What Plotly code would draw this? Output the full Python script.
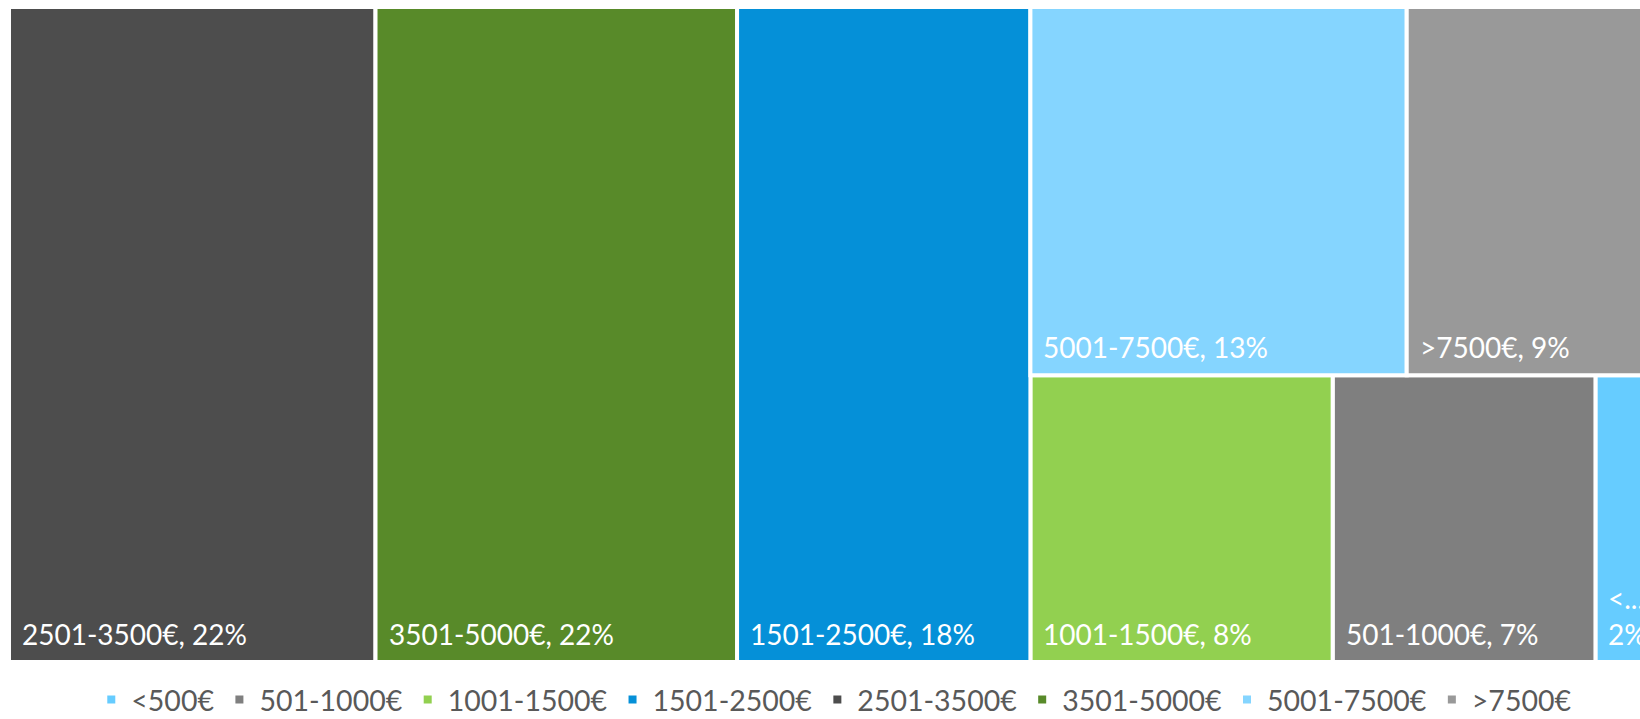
import plotly.graph_objects as go

# ---- data ----
categories = ["<500€", "501-1000€", "1001-1500€", "1501-2500€",
              "2501-3500€", "3501-5000€", "5001-7500€", ">7500€"]
shares = [1.99, 6.92, 7.96, 17.65, 22.05, 21.75, 12.73, 8.94]
colors = ["#66CCFF", "#7F7F7F", "#92D050", "#0590D8",
          "#4D4D4D", "#588A29", "#85D5FF", "#999999"]

# treemap structure (Excel-like): columns, each a stack of rows (top -> bottom)
tree_groups = [
    [["2501-3500€"]],
    [["3501-5000€"]],
    [["1501-2500€"]],
    [["5001-7500€", ">7500€"], ["1001-1500€", "501-1000€", "<500€"]],
]

val = dict(zip(categories, shares))
col = dict(zip(categories, colors))
total = sum(shares)

# ---- geometry (treemap of height 1, width = total) ----
tiles = {}
x = 0.0
for group in tree_groups:
    gsum = sum(val[c] for row in group for c in row)
    gw = gsum  # column width since height is 1
    ytop = 1.0
    for row in group:
        rsum = sum(val[c] for c in row)
        rh = rsum / gsum
        ybot = max(round(ytop - rh, 9), 0.0)
        xx = x
        for c in row:
            w = val[c] / rh
            tiles[c] = (xx, ybot, w, ytop - ybot)
            xx += w
        ytop = ybot
    x += gw

W_PX, H_PX = 1640, 719
M_L, M_R, M_T, M_B = 9, 0, 7, 57
plot_w = W_PX - M_L - M_R
tree_px = 1662.0               # full treemap pixel width (extends past window)
px_per_unit = tree_px / total
x_visible = plot_w / px_per_unit

LABEL_SIZE = 28
fig = go.Figure()
for c in categories:
    x0, y0, w, h = tiles[c]
    fig.add_trace(go.Bar(
        x=[x0 + w / 2], y=[h], base=[y0], width=[w],
        name=c, marker=dict(color=col[c], line=dict(color="white", width=4)),
        hovertemplate=f"{c}: {round(val[c] / total * 100)}%<extra></extra>",
    ))

for c in categories:
    x0, y0, w, h = tiles[c]
    pct = f"{round(val[c] / total * 100)}%"
    text = f"{c}, {pct}"
    tile_px = w * px_per_unit
    if len(text) * 0.55 * LABEL_SIZE > tile_px - 24:
        name = c if len(c) * 0.55 * LABEL_SIZE <= tile_px - 24 else c[0] + "..."
        text = f"{name}<br>{pct}"
    fig.add_annotation(
        x=x0, y=y0, xref="x", yref="y", text=text, showarrow=False,
        xanchor="left", yanchor="bottom", align="left", xshift=11, yshift=9,
        font=dict(family="Lato", size=LABEL_SIZE, color="white"),
    )

fig.update_layout(
    width=W_PX, height=H_PX,
    margin=dict(l=M_L, r=M_R, t=M_T, b=M_B, autoexpand=False),
    paper_bgcolor="white", plot_bgcolor="white",
    barmode="overlay",
    xaxis=dict(range=[0, x_visible], visible=False, fixedrange=True),
    yaxis=dict(range=[0, 1], visible=False, fixedrange=True),
    showlegend=True,
    legend=dict(orientation="h", x=0.506, xanchor="center",
                y=-0.058, yanchor="middle",
                font=dict(family="Lato", size=28.5, color="#595959"),
                traceorder="normal", itemclick=False),
)

fig.write_html("out.html",
               config={"displayModeBar": False},
               post_script="document.body.style.margin='0px';"
                           "document.body.style.overflow='hidden';")
